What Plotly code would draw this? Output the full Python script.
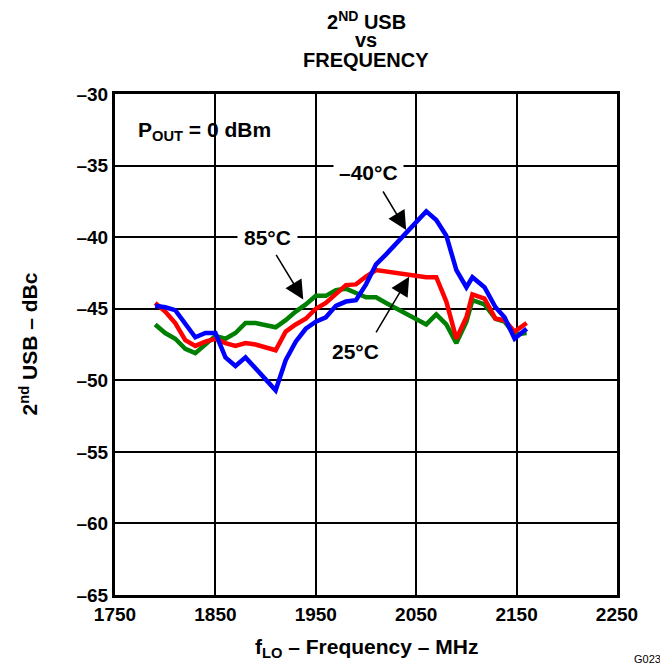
import plotly.graph_objects as go

# Data
freq = [1790, 1800, 1810, 1820, 1830, 1840, 1850, 1860, 1870, 1880, 1890,
        1910, 1920, 1930, 1940, 1950, 1960, 1970, 1980, 1990, 2000, 2010,
        2020, 2060, 2070, 2080, 2090, 2100, 2106, 2118, 2129, 2138, 2148, 2160]

usb_m40 = [-44.8, -44.9, -45.1, -46.1, -47.0, -46.7, -46.7, -48.4, -49.0, -48.4, -49.2,
           -50.7, -48.6, -47.3, -46.4, -45.9, -45.6, -44.8, -44.5, -44.4, -43.3, -41.9,
           -41.2, -38.2, -38.8, -39.9, -42.3, -43.5, -42.8, -43.5, -44.9, -45.6, -47.1, -46.4]

usb_25 = [-44.6, -45.2, -46.0, -47.2, -47.6, -47.3, -47.1, -47.4, -47.6, -47.4, -47.5,
          -47.9, -46.6, -46.1, -45.7, -45.0, -44.6, -44.0, -43.35, -43.3, -42.75, -42.3,
          -42.4, -42.8, -42.8, -44.5, -47.1, -45.6, -44.0, -44.3, -45.7, -45.8, -46.6, -46.0]

usb_85 = [-46.1, -46.7, -47.1, -47.8, -48.1, -47.5, -46.9, -47.1, -46.7, -46.0, -46.0,
          -46.3, -45.8, -45.2, -44.7, -44.1, -44.1, -43.7, -43.6, -43.9, -44.2, -44.2,
          -44.6, -46.1, -45.4, -46.1, -47.4, -45.9, -44.4, -44.7, -45.7, -45.9, -46.8, -46.7]

x_ticks = [1750, 1850, 1950, 2050, 2150, 2250]
y_ticks = [-30, -35, -40, -45, -50, -55, -60, -65]
y_ticktext = ["–30", "–35", "–40", "–45", "–50", "–55", "–60", "–65"]

FONT = "Liberation Sans"
tick_font = dict(family=FONT, size=19, color="black", weight="bold")
bold = dict(family=FONT, size=21, color="black", weight="bold")
title_font = dict(family=FONT, size=20, color="black", weight="bold")

fig = go.Figure()
fig.add_trace(go.Scatter(x=freq, y=usb_85, mode="lines", line=dict(color="#008000", width=4.5), name="85°C"))
fig.add_trace(go.Scatter(x=freq, y=usb_25, mode="lines", line=dict(color="#ff0000", width=4.5), name="25°C"))
fig.add_trace(go.Scatter(x=freq, y=usb_m40, mode="lines", line=dict(color="#0000ff", width=4.5), name="-40°C"))

axis_common = dict(
    showline=True, linecolor="black", linewidth=3, mirror=True,
    showgrid=True, gridcolor="black", gridwidth=1.5,
    zeroline=False, ticks="", tickfont=tick_font, automargin=False,
)

fig.update_xaxes(range=[1750, 2250], tickvals=x_ticks, **axis_common)
fig.update_yaxes(range=[-65, -30], tickvals=y_ticks, ticktext=y_ticktext, **axis_common)

# the page body adds an 8px offset, so shifts below are measured from the plot frame
annots = [
    dict(text="<b>2<sup>ND</sup> USB</b>", x=0.5, y=1.0, xref="paper", yref="paper",
         yanchor="middle", yshift=74, font=title_font, showarrow=False),
    dict(text="<b>vs</b>", x=0.5, y=1.0, xref="paper", yref="paper",
         yanchor="middle", yshift=54, font=title_font, showarrow=False),
    dict(text="<b>FREQUENCY</b>", x=0.5, y=1.0, xref="paper", yref="paper",
         yanchor="middle", yshift=34, font=title_font, showarrow=False),
    dict(text="<b>f<sub>LO</sub> – Frequency – MHz</b>", x=0.5, y=0, xref="paper", yref="paper",
         yanchor="middle", yshift=-53, font=bold, showarrow=False),
    dict(text="<b>2<sup>nd</sup> USB – dBc</b>", x=0, y=0.5, xref="paper", yref="paper",
         xanchor="center", xshift=-87, textangle=-90, font=bold, showarrow=False),
    dict(text="G023", x=1.03, y=0, xref="paper", yref="paper", xanchor="left",
         yanchor="middle", yshift=-64, font=dict(family=FONT, size=11, color="black"),
         showarrow=False),
    dict(text="<b>P<sub>OUT</sub> = 0 dBm</b>", x=1771, y=-32.6, xanchor="left",
         font=bold, showarrow=False),
    # temperature labels
    dict(text="<b>–40°C</b>", x=2002, y=-35.45, font=bold, showarrow=False,
         bgcolor="white", borderpad=5),
    dict(text="<b>85°C</b>", x=1902, y=-40.0, font=bold, showarrow=False,
         bgcolor="white", borderpad=6),
    dict(text="<b>25°C</b>", x=1990, y=-48.0, font=bold, showarrow=False,
         bgcolor="white", borderpad=4),
    # arrows
    dict(text="", x=2040, y=-39.5, ax=-24, ay=-40, showarrow=True,
         arrowhead=2, arrowsize=2.5, arrowwidth=1.5, arrowcolor="black"),
    dict(text="", x=1937.5, y=-44.35, ax=-28, ay=-46, showarrow=True,
         arrowhead=2, arrowsize=2.5, arrowwidth=1.5, arrowcolor="black"),
    dict(text="", x=2043, y=-42.77, ax=-34, ay=57, showarrow=True,
         arrowhead=2, arrowsize=2.5, arrowwidth=1.5, arrowcolor="black"),
]

fig.update_layout(
    width=660, height=658,
    margin=dict(l=107, r=51, t=86, b=71),
    plot_bgcolor="white", paper_bgcolor="white",
    showlegend=False,
    annotations=annots,
    font=dict(family=FONT),
)

fig.write_html("out.html")
